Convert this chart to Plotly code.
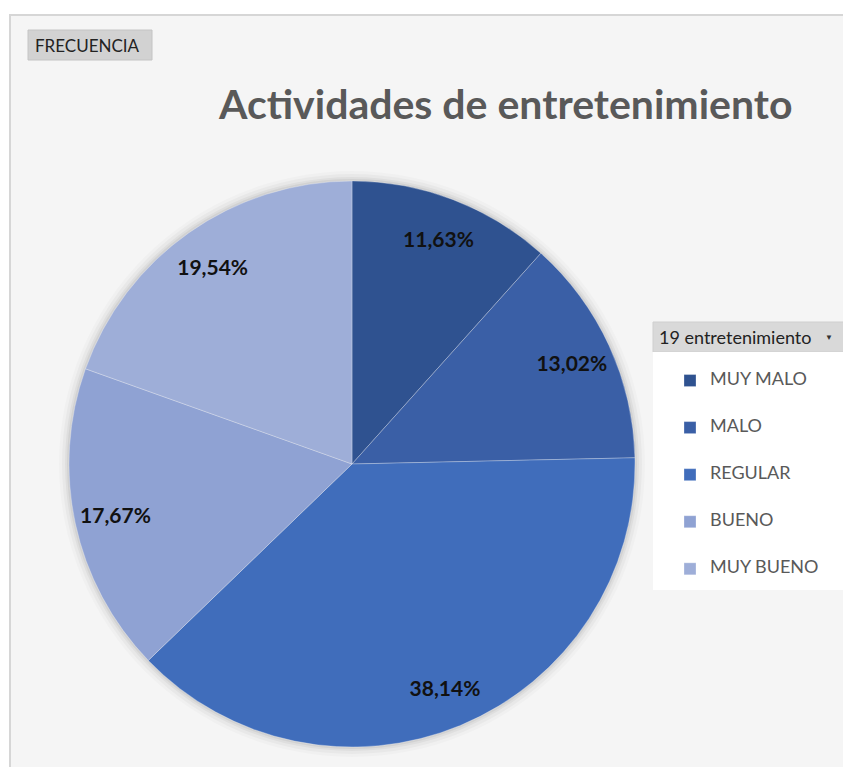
import plotly.graph_objects as go

# datos
categorias = ["MUY MALO", "MALO", "REGULAR", "BUENO", "MUY BUENO"]
porcentajes = [11.63, 13.02, 38.14, 17.67, 19.54]
colores = ["#2F5290", "#3A5FA6", "#406DBB", "#8FA2D3", "#9EAED8"]

W, H = 851, 767
OFF = 8  # margen del body de la pagina


def px_x(x):
    return (x - OFF) / W


def px_y(y):
    return 1 - (y - OFF) / H


# etiquetas de leyenda con lineas en blanco para separar las entradas
etiquetas = [f"<br><span style='font-size:18px'>{c}</span><br>" for c in categorias]
dominio = dict(x=[px_x(69), px_x(635)], y=[px_y(747), px_y(181)])

fig = go.Figure()
# tarta principal (sin texto)
fig.add_trace(go.Pie(
    labels=etiquetas,
    values=porcentajes,
    sort=False,
    direction="clockwise",
    rotation=0,
    marker=dict(colors=colores, line=dict(color="rgba(255,255,255,0.35)", width=0.8)),
    textinfo="none",
    domain=dominio,
    hoverinfo="label+percent",
))
# anillo transparente para colocar las etiquetas cerca del borde
fig.add_trace(go.Pie(
    labels=etiquetas,
    values=porcentajes,
    sort=False,
    direction="clockwise",
    rotation=0,
    hole=0.71,
    showlegend=False,
    marker=dict(colors=["rgba(0,0,0,0)"] * 5, line=dict(width=0)),
    texttemplate="%{percent:.2%}",
    textposition="inside",
    insidetextorientation="horizontal",
    textfont=dict(family="Lato", size=21, color="#111111", weight="bold"),
    domain=dominio,
    hoverinfo="skip",
))

# sombra suave alrededor de la tarta
sombra = []
for extra, alpha in [(10, 0.02), (7, 0.03), (4, 0.04), (2, 0.05)]:
    sombra.append(dict(type="circle", xref="paper", yref="paper",
                       x0=px_x(352 - 283 - extra), x1=px_x(352 + 283 + extra),
                       y0=px_y(464 + 283 + extra), y1=px_y(464 - 283 - extra),
                       fillcolor=f"rgba(0,0,0,{alpha})", line=dict(width=0), layer="below"))

fig.update_layout(
    width=W, height=H,
    margin=dict(l=0, r=0, t=0, b=0),
    paper_bgcolor="white",
    separators=",.",
    font=dict(family="Lato", color="#404040"),
    legend=dict(
        xref="paper", yref="paper",
        x=px_x(653), y=px_y(352), xanchor="left", yanchor="top",
        bgcolor="rgba(0,0,0,0)",
        font=dict(size=11.3, color="#595959", family="Lato"),
        indentation=17,
        entrywidth=170,
    ),
    shapes=[
        # area del grafico
        dict(type="rect", xref="paper", yref="paper",
             x0=px_x(10), x1=1.01, y0=-0.01, y1=px_y(15),
             fillcolor="#F5F5F5", line=dict(color="#D6D6D6", width=2), layer="below"),
        # boton FRECUENCIA
        dict(type="rect", xref="paper", yref="paper",
             x0=px_x(28), x1=px_x(152), y0=px_y(60), y1=px_y(30),
             fillcolor="#D2D2D2", line=dict(color="#C4C4C4", width=1), layer="below"),
        # cabecera de la leyenda
        dict(type="rect", xref="paper", yref="paper",
             x0=px_x(653), x1=px_x(845), y0=px_y(352), y1=px_y(322),
             fillcolor="#D9D9D9", line=dict(color="#CFCFCF", width=1), layer="below"),
        # caja de la leyenda
        dict(type="rect", xref="paper", yref="paper",
             x0=px_x(653), x1=px_x(845), y0=px_y(590), y1=px_y(352),
             fillcolor="#FFFFFF", line=dict(width=0), layer="below"),
    ] + sombra,
    annotations=[
        dict(text="<b>Actividades de entretenimiento</b>", xref="paper", yref="paper",
             x=px_x(506), y=px_y(104), xanchor="center", yanchor="middle",
             showarrow=False, font=dict(family="Lato", size=41, color="#595959")),
        dict(text="FRECUENCIA", xref="paper", yref="paper",
             x=px_x(87), y=px_y(45), xanchor="center", yanchor="middle",
             showarrow=False, font=dict(family="Lato", size=17, color="#222222")),
        dict(text="19 entretenimiento", xref="paper", yref="paper",
             x=px_x(657), y=px_y(337), xanchor="left", yanchor="middle",
             showarrow=False, font=dict(family="Lato", size=18, color="#222222")),
        dict(text="\u25BC", xref="paper", yref="paper",
             x=px_x(829), y=px_y(337), xanchor="center", yanchor="middle",
             showarrow=False, font=dict(size=8, color="#333333")),
    ],
)

fig.write_html("out.html")
